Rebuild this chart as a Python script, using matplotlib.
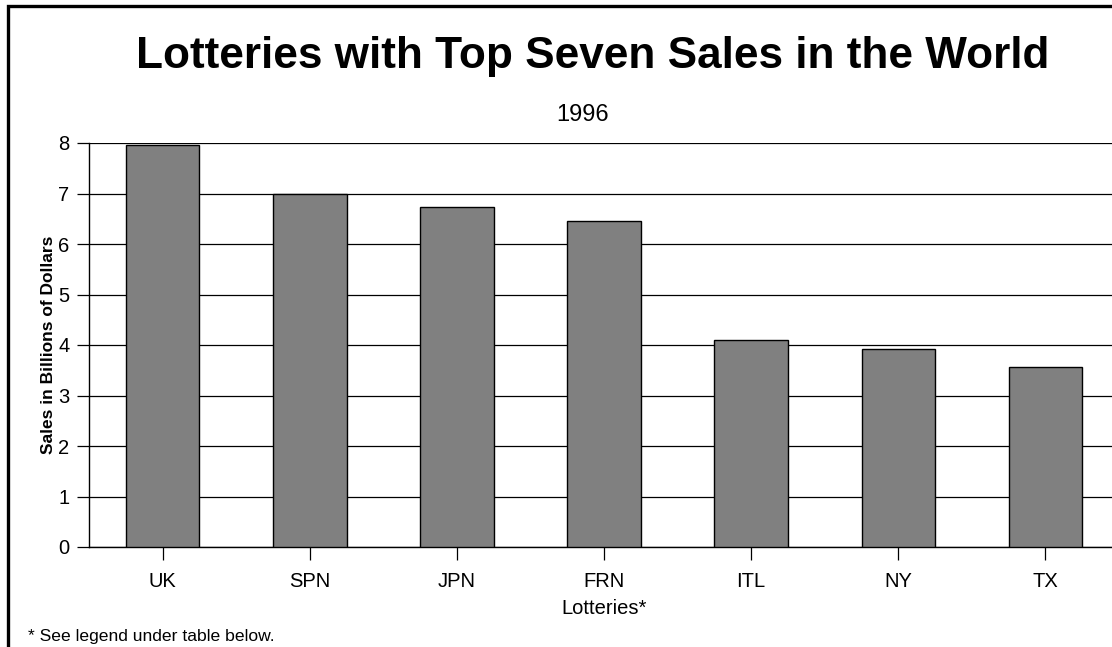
import matplotlib
matplotlib.use("Agg")
import matplotlib.pyplot as plt
from matplotlib.patches import Rectangle

# Lottery sales, 1996 (billions of dollars)
lotteries = ["UK", "SPN", "JPN", "FRN", "ITL", "NY", "TX"]
sales = [7.96, 7.00, 6.74, 6.46, 4.09, 3.93, 3.56]
y_ticks = [0, 1, 2, 3, 4, 5, 6, 7, 8]

plt.rcParams["font.family"] = ["Liberation Sans", "DejaVu Sans"]

W, H = 1112, 647
fig = plt.figure(figsize=(W / 100, H / 100), dpi=100)

left, right, bottom, top = 89, 1119, 547, 143
ax = fig.add_axes([left / W, 1 - bottom / H, (right - left) / W, (bottom - top) / H])

x = list(range(len(lotteries)))
ax.bar(x, sales, width=0.5, color="#808080", edgecolor="black", linewidth=1.0, zorder=3)

ax.set_xlim(-0.5, len(lotteries) - 0.5)
ax.set_ylim(0, 8)
ax.set_yticks(y_ticks)
ax.set_xticks(x)
ax.set_xticklabels(lotteries)
ax.yaxis.grid(True, color="black", linewidth=0.9, zorder=0)
ax.set_axisbelow(True)

for s in ("top", "right"):
    ax.spines[s].set_visible(False)
ax.spines["left"].set_linewidth(1.0)
ax.spines["bottom"].set_linewidth(1.0)

ax.tick_params(axis="y", direction="out", length=9, width=0.9, labelsize=14.5, pad=5)
ax.tick_params(axis="x", direction="out", length=9, width=0.9, labelsize=14.5, pad=9)

ax.set_xlabel("Lotteries*", fontsize=14.5, labelpad=6)
ax.set_ylabel("Sales in Billions of Dollars", fontsize=12.5, fontweight="bold", labelpad=2)

fig.text(593 / W, 1 - 68 / H, "Lotteries with Top Seven Sales in the World",
         ha="center", va="baseline", fontsize=31.8, fontweight="bold")
fig.text(583 / W, 1 - 115 / H, "1996", ha="center", va="center", fontsize=17)
fig.text(28 / W, 1 - 637 / H, "* See legend under table below.",
         ha="left", va="center", fontsize=12.6)

# outer frame (open to the right and bottom)
fig.add_artist(Rectangle((7.5 / W, -0.2), 2.0, 1 - 6.5 / H + 0.2,
                         transform=fig.transFigure, fill=False,
                         edgecolor="black", linewidth=2.4))

fig.savefig("out.png", dpi=100)
